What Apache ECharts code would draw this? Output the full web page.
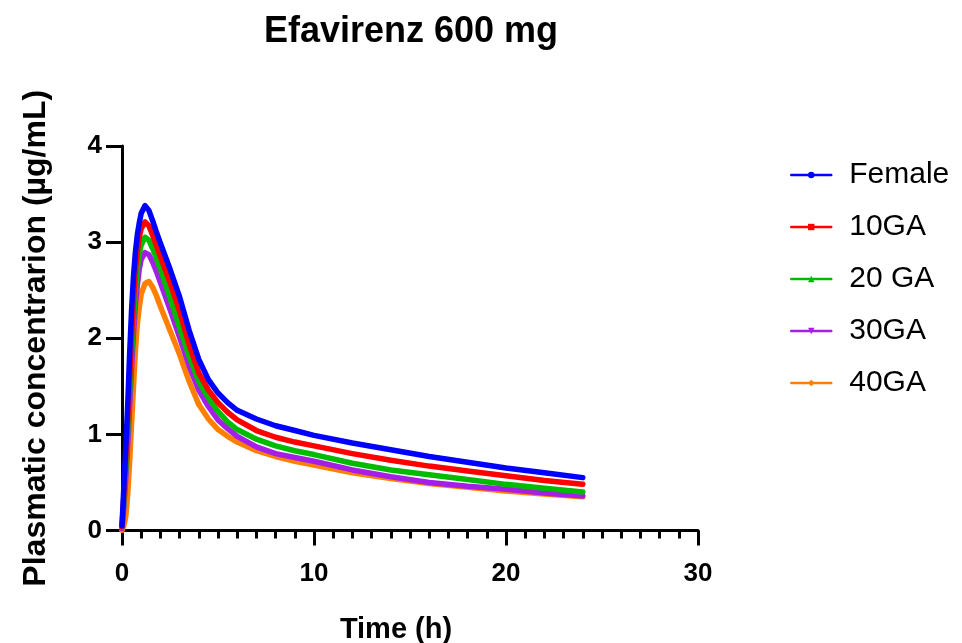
<!DOCTYPE html>
<html>
<head>
<meta charset="utf-8">
<script src="https://cdn.jsdelivr.net/npm/echarts@6/dist/echarts.min.js"></script>
<style>
	html, body { margin: 0; padding: 0; background: #fff; }
	#main { width: 962px; height: 643px; }
</style>
</head>
<body>
<div id="main"></div>
<script>
// time points (h)
var times = [0, 0.1, 0.2, 0.3, 0.4, 0.5, 0.6, 0.7, 0.8, 0.9, 1.0, 1.2, 1.4, 1.6, 1.8, 2.0, 2.5, 3.0, 3.5, 4.0, 4.5, 5.0, 5.5, 6.0, 7.0, 8.0, 9.0, 10, 12, 14, 16, 18, 20, 22, 24];

var female = [0.05, 0.47, 0.88, 1.32, 1.85, 2.30, 2.65, 2.90, 3.08, 3.20, 3.30, 3.38, 3.33, 3.22, 3.10, 2.99, 2.72, 2.43, 2.08, 1.78, 1.57, 1.43, 1.33, 1.25, 1.16, 1.09, 1.04, 0.99, 0.91, 0.84, 0.77, 0.71, 0.65, 0.60, 0.55];
var ga10 = [0.04, 0.37, 0.76, 1.15, 1.58, 2.02, 2.40, 2.70, 2.90, 3.05, 3.14, 3.21, 3.17, 3.07, 2.96, 2.85, 2.58, 2.28, 1.93, 1.64, 1.46, 1.33, 1.23, 1.15, 1.04, 0.97, 0.92, 0.88, 0.80, 0.73, 0.67, 0.62, 0.57, 0.52, 0.48];
var ga20 = [0.03, 0.30, 0.65, 1.05, 1.45, 1.85, 2.20, 2.50, 2.72, 2.88, 2.97, 3.05, 3.02, 2.93, 2.83, 2.72, 2.42, 2.11, 1.81, 1.55, 1.38, 1.24, 1.13, 1.05, 0.95, 0.88, 0.83, 0.79, 0.70, 0.63, 0.58, 0.53, 0.48, 0.44, 0.40];
var ga30 = [0.02, 0.25, 0.55, 0.90, 1.30, 1.70, 2.05, 2.35, 2.55, 2.72, 2.82, 2.89, 2.87, 2.79, 2.69, 2.58, 2.30, 2.01, 1.71, 1.46, 1.29, 1.15, 1.06, 0.98, 0.87, 0.80, 0.76, 0.72, 0.63, 0.56, 0.50, 0.46, 0.43, 0.39, 0.36];
var ga40 = [0.00, 0.05, 0.15, 0.38, 0.72, 1.12, 1.50, 1.88, 2.15, 2.32, 2.46, 2.57, 2.59, 2.53, 2.44, 2.33, 2.08, 1.83, 1.55, 1.31, 1.16, 1.05, 0.98, 0.92, 0.83, 0.77, 0.72, 0.68, 0.60, 0.54, 0.49, 0.45, 0.41, 0.38, 0.35];

var seriesNames = ['Female', '10GA', '20 GA', '30GA', '40GA'];
var seriesValues = [female, ga10, ga20, ga30, ga40];
var seriesColors = ['#0000ff', '#ff0000', '#00bb00', '#a51ee6', '#ff8000'];
var seriesSymbols = ['circle', 'rect', 'triangle', 'triangle', 'diamond'];
var symbolRotates = [0, 0, 0, 180, 0];

var xTicks = [0, 10, 20, 30];
var yTicks = [0, 1, 2, 3, 4];

var FONT = '"Liberation Sans", Arial, sans-serif';

function pairUp(xs, ys) {
	var out = [];
	for(var i = 0; i < xs.length; i ++) {
		out.push([xs[i], ys[i]]);
	}
	return out;
}

var series = [];
for(var i = 0; i < seriesNames.length; i ++) {
	series.push({
		name : seriesNames[i],
		type : 'line',
		data : pairUp(times, seriesValues[i]),
		smooth : false,
		symbol : seriesSymbols[i],
		symbolRotate : symbolRotates[i],
		symbolSize : 5,
		showSymbol : false,
		z : 10 - i,
		color : seriesColors[i],
		lineStyle : { width : 5.5, color : seriesColors[i], cap : 'round', join : 'round' },
		itemStyle : { color : seriesColors[i] },
		animation : false
	});
}

var chart = echarts.init(document.getElementById('main'));
var option = {
	backgroundColor : '#fff',
	title : {
		text : 'Efavirenz 600 mg',
		left : 406,
		top : 9,
		textAlign : 'center',
		textStyle : { fontFamily : FONT, fontWeight : 'bold', fontSize : 36, color : '#000' }
	},
	legend : {
		orient : 'vertical',
		left : 785,
		top : 155,
		itemWidth : 40,
		itemHeight : 8,
		itemGap : 22,
		data : seriesNames,
		lineStyle : { width : 2.5 },
		textStyle : { fontFamily : FONT, fontSize : 30, color : '#000', padding : [0, 0, 0, 13] }
	},
	grid : {
		left : 122,
		right : 264,
		top : 146,
		bottom : 112.5,
		outerBoundsMode : 'none'
	},
	xAxis : {
		type : 'value',
		min : xTicks[0],
		max : xTicks[xTicks.length - 1],
		interval : 10,
		name : 'Time (h)',
		nameLocation : 'middle',
		nameGap : 85,
		nameTextStyle : { fontFamily : FONT, fontWeight : 'bold', fontSize : 29, color : '#000', padding : [0, 28, 0, 0] },
		axisLine : { lineStyle : { color : '#000', width : 3 } },
		axisTick : { length : 15, lineStyle : { color : '#000', width : 3 } },
		minorTick : { show : true, splitNumber : 10, length : 8, lineStyle : { color : '#000', width : 3 } },
		axisLabel : { margin : 30, fontFamily : FONT, fontWeight : 'bold', fontSize : 26, color : '#000' },
		splitLine : { show : false }
	},
	yAxis : {
		type : 'value',
		min : yTicks[0],
		max : yTicks[yTicks.length - 1],
		interval : 1,
		name : 'Plasmatic concentrarion (µg/mL)',
		nameLocation : 'middle',
		nameGap : 70,
		nameTextStyle : { fontFamily : FONT, fontWeight : 'bold', fontSize : 32, color : '#000' },
		axisLine : { lineStyle : { color : '#000', width : 3 } },
		axisTick : { length : 16, lineStyle : { color : '#000', width : 3 } },
		axisLabel : { margin : 20, fontFamily : FONT, fontWeight : 'bold', fontSize : 26, color : '#000' },
		splitLine : { show : false }
	},
	series : series
};
chart.setOption(option);
</script>
</body>
</html>
